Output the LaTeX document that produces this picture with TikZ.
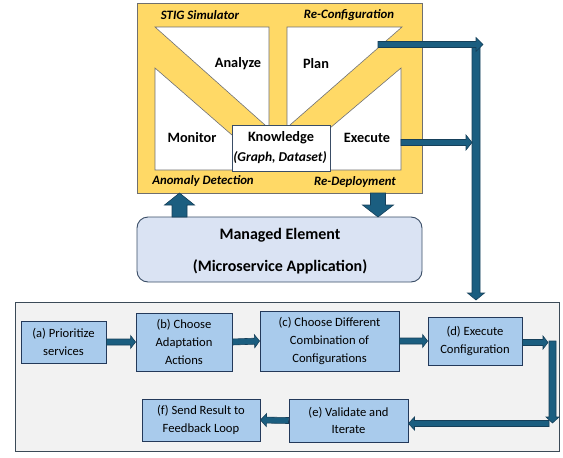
\documentclass[tikz,border=0pt]{standalone}
\usepackage{fontspec}
\setmainfont{Carlito}
\usetikzlibrary{calc}
\definecolor{gold}{HTML}{FFD966}
\definecolor{goldline}{HTML}{6F6F6F}
\definecolor{arrowfill}{HTML}{1B5E80}
\definecolor{arrowline}{HTML}{16405A}
\definecolor{boxfill}{HTML}{A9CBEC}
\definecolor{boxline}{HTML}{23395A}
\definecolor{mefill}{HTML}{DAE3F3}
\definecolor{meline}{HTML}{3A4D66}
\definecolor{panelfill}{HTML}{F2F2F2}
\definecolor{panelline}{HTML}{3B4A57}
\newcommand{\blockarrow}[5]{%
  \coordinate (baS) at (#1);
  \coordinate (baE) at (#2);
  \coordinate (baB) at ($(baE)!#5pt!(baS)$);
  \filldraw[barrow] ($(baS)!#3pt!90:(baE)$) -- ($(baB)!#3pt!90:(baE)$) -- ($(baB)!#4pt!90:(baE)$) -- (baE) -- ($(baB)!#4pt!-90:(baE)$) -- ($(baB)!#3pt!-90:(baE)$) -- ($(baS)!#3pt!-90:(baE)$) -- cycle;
}
\begin{document}
\begin{tikzpicture}[x=1pt,y=-1pt,
  barrow/.style={fill=arrowfill,draw=arrowline,line width=0.6pt,line join=miter},
  whiteshape/.style={fill=white,draw=goldline,line width=0.6pt},
  lbl/.style={font=\bfseries\fontsize{14.3}{16}\selectfont,inner sep=0pt},
  ilbl/.style={font=\bfseries\itshape\fontsize{12.8}{14}\selectfont,inner sep=0pt},
  stepbox/.style={rectangle,fill=boxfill,draw=boxline,line width=0.9pt,align=center,
    font=\fontsize{12.6}{17.6}\selectfont,inner sep=0pt}]
\useasboundingbox (0,0) rectangle (563,458);
% MAPE-K frame
\filldraw[fill=gold,draw=goldline,line width=0.8pt] (137,3) rectangle (422,193);
\filldraw[whiteshape] (155,27) -- (269,27) -- (269,128.6) -- cycle;
\filldraw[whiteshape] (155,68) -- (240,142) -- (240,170) -- (155,170) -- cycle;
\filldraw[whiteshape] (287,27) -- (402,27) -- (287,127.6) -- cycle;
\filldraw[whiteshape] (401,68) -- (322,134.8) -- (322,170) -- (401,170) -- cycle;
\node[rectangle,fill=white,draw=meline,line width=0.8pt,minimum width=98pt,minimum height=46pt,inner sep=0pt] (know) at (281,148) {};
\node[lbl] (knowt) at (281,138) {Knowledge};
\node[ilbl,font=\bfseries\itshape\fontsize{13.5}{15}\selectfont] (knowg) at (280,157.5) {(Graph, Dataset)};
\node[lbl] (analyze) at (238,64) {Analyze};
\node[lbl] (plan) at (316,64) {Plan};
\node[lbl] (monitor) at (192,138) {Monitor};
\node[lbl] (execute) at (367,138) {Execute};
\node[ilbl] (stig) at (200,15) {STIG Simulator};
\node[ilbl] (reconf) at (349,15) {Re-Configuration};
\node[ilbl] (anom) at (203,181) {Anomaly Detection};
\node[ilbl] (redep) at (355,182) {Re-Deployment};
% managed element
\node[rectangle,rounded corners=11pt,fill=mefill,draw=meline,line width=0.9pt,minimum width=285pt,minimum height=65pt] (me) at (279.5,249.5) {};
\node[lbl,font=\bfseries\fontsize{16}{18}\selectfont] (me1) at (280,235) {Managed Element};
\node[lbl,font=\bfseries\fontsize{16}{18}\selectfont] (me2) at (280,267) {(Microservice Application)};
\coordinate (upS) at (179.5,217);
\coordinate (upE) at (179.5,193);
\coordinate (dnS) at (378,193);
\coordinate (dnE) at (378,217);
\blockarrow{upS}{upE}{7.5}{15}{12}
\blockarrow{dnS}{dnE}{7.5}{15.5}{12}
% right side arrows
\coordinate (planOut) at (378,44.5);
\coordinate (planTip) at (483,44.5);
\coordinate (vTop) at (476,43);
\coordinate (vBot) at (476,300);
\coordinate (exOut) at (401,142.5);
\coordinate (exTip) at (472,142.5);
\blockarrow{vTop}{vBot}{4}{8.5}{7}
\blockarrow{planOut}{planTip}{3}{7}{7}
\blockarrow{exOut}{exTip}{3}{7.5}{6}
% bottom panel
\filldraw[fill=panelfill,draw=panelline,line width=0.8pt] (15,302) rectangle (559,451);
\node[stepbox,minimum width=85pt,minimum height=42pt] (a) at (63.5,342) {(a) Prioritize\\services};
\node[stepbox,minimum width=96pt,minimum height=58pt] (b) at (184,342) {(b) Choose\\Adaptation\\Actions};
\node[stepbox,minimum width=139pt,minimum height=60pt] (c) at (329.5,341) {(c) Choose Different\\Combination of\\Configurations};
\node[stepbox,minimum width=94pt,minimum height=48pt] (d) at (475,341) {(d) Execute\\Configuration};
\node[stepbox,minimum width=119pt,minimum height=43pt] (e) at (348.5,420.5) {(e) Validate and\\Iterate};
\node[stepbox,minimum width=118pt,minimum height=42pt] (f) at (201,420) {(f) Send Result to\\Feedback Loop};
\blockarrow{a.east}{b.west}{3}{6.5}{5}
\blockarrow{b.east}{c.west}{3}{6.5}{5}
\blockarrow{c.east}{d.west}{3}{6.5}{5}
\coordinate (dOut) at (548,342.5);
\coordinate (turnTop) at (552.5,341);
\coordinate (turnBot) at (552.5,423);
\coordinate (eIn) at (549,423.5);
\blockarrow{d.east |- dOut}{dOut}{3}{6.5}{5}
\blockarrow{turnTop}{turnBot}{3.5}{6.5}{6}
\blockarrow{eIn}{e.east |- eIn}{3}{6.5}{6}
\blockarrow{e.west}{f.east}{3}{6.5}{6}
\end{tikzpicture}
\end{document}
